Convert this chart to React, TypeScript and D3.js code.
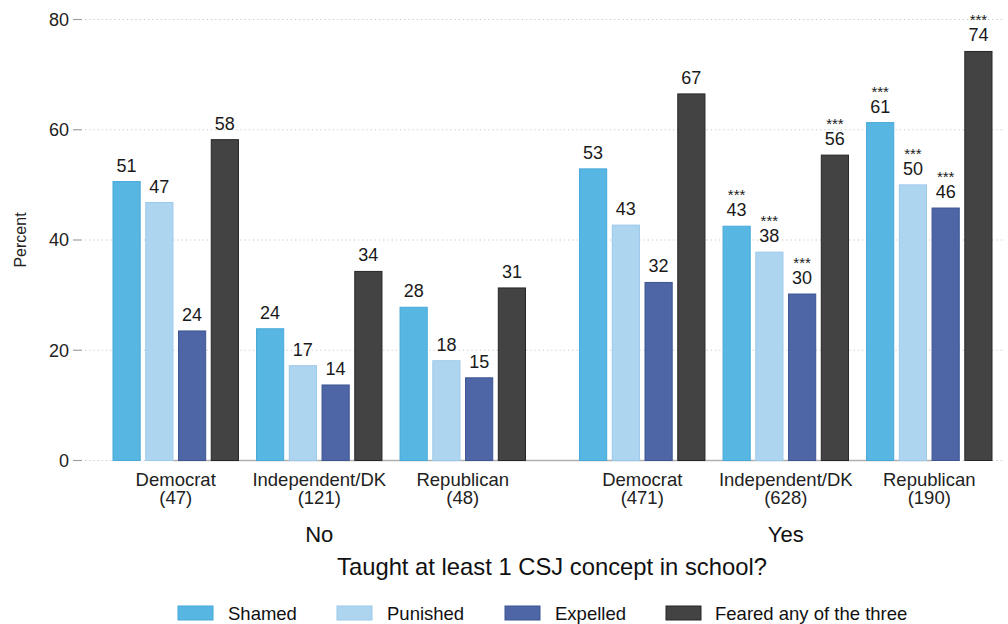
import React from "react";
import * as d3 from "d3";

const panels = ["No", "Yes"];
const parties = ["Democrat", "Independent/DK", "Republican"];
const sampleSizes = [
  ["(47)", "(121)", "(48)"],
  ["(471)", "(628)", "(190)"],
];
const seriesNames = ["Shamed", "Punished", "Expelled", "Feared any of the three"];
const seriesColors = ["#57B6E2", "#ADD5F0", "#4E66A5", "#434343"];
const seriesStroke = ["#47A9DA", "#9CC9EA", "#3D5594", "#262626"];
// values[party][series]
const valuesNo = [
  [50.6, 46.8, 23.5, 58.2],
  [23.9, 17.2, 13.7, 34.3],
  [27.8, 18.1, 15.0, 31.3],
];
const valuesYes = [
  [52.9, 42.7, 32.3, 66.5],
  [42.5, 37.8, 30.2, 55.4],
  [61.3, 50.0, 45.8, 74.2],
];
const labelsNo = [
  ["51", "47", "24", "58"],
  ["24", "17", "14", "34"],
  ["28", "18", "15", "31"],
];
const labelsYes = [
  ["53", "43", "32", "67"],
  ["43", "38", "30", "56"],
  ["61", "50", "46", "74"],
];
const starsNo = [
  [false, false, false, false],
  [false, false, false, false],
  [false, false, false, false],
];
const starsYes = [
  [false, false, false, false],
  [true, true, true, true],
  [true, true, true, true],
];
const yTicks = [0, 20, 40, 60, 80];

const FONT = "'Liberation Sans', Arial, Helvetica, sans-serif";

export default function App() {
  const W = 1008;
  const H = 624;
  const y = d3.scaleLinear().domain([0, 80]).range([460.5, 19.5]);
  const xPanel = d3.scaleBand<string>().domain(panels).range([113, 992]).paddingInner(0.1158);
  const xGroup = d3
    .scaleBand<string>()
    .domain(parties)
    .range([0, xPanel.bandwidth()])
    .paddingInner(0.126);
  const xSeries = d3
    .scaleBand<string>()
    .domain(seriesNames)
    .range([0, xGroup.bandwidth()])
    .paddingInner(0.17);

  const allValues = [valuesNo, valuesYes];
  const allLabels = [labelsNo, labelsYes];
  const allStars = [starsNo, starsYes];

  const baseStart = (xPanel("No") || 0) + (xSeries("Expelled") || 0) - 5;
  const baseEnd = (xPanel("Yes") || 0) + (xGroup("Republican") || 0) + (xSeries("Expelled") || 0);

  const legendItems = [
    { sx: 178, tx: 228 },
    { sx: 337, tx: 387 },
    { sx: 505, tx: 555 },
    { sx: 666, tx: 715 },
  ];

  return (
    <svg width={W} height={H} style={{ position: "absolute", left: 0, top: 0, background: "#fff" }} fontFamily={FONT}>
      {yTicks.map((t) => (
        <g key={"g" + t}>
          <line x1={85} x2={1005} y1={y(t)} y2={y(t)} stroke="#c8c8c8" strokeWidth={1} strokeDasharray="1.2,3" />
          <line x1={73} x2={82} y1={y(t)} y2={y(t)} stroke="#a0a0a0" strokeWidth={1.2} />
          <text x={69} y={y(t)} dy="0.36em" textAnchor="end" fontSize={18} fill="#222">
            {t}
          </text>
        </g>
      ))}
      <line x1={baseStart} x2={baseEnd} y1={y(0)} y2={y(0)} stroke="#b0b0b0" strokeWidth={1.5} />
      <text transform={`translate(26,${y(40)}) rotate(-90)`} textAnchor="middle" fontSize={16} fill="#222">
        Percent
      </text>

      {panels.map((p, pi) => {
        const px = xPanel(p) || 0;
        return (
          <g key={p}>
            {parties.map((party, gi) => {
              const gx = px + (xGroup(party) || 0);
              const gc = gx + xGroup.bandwidth() / 2;
              return (
                <g key={party}>
                  {seriesNames.map((s, si) => {
                    const v = allValues[pi][gi][si];
                    const bx = gx + (xSeries(s) || 0);
                    const bw = xSeries.bandwidth();
                    const cx = bx + bw / 2;
                    const top = y(v);
                    return (
                      <g key={s}>
                        <rect
                          x={bx}
                          y={top}
                          width={bw}
                          height={y(0) - top}
                          fill={seriesColors[si]}
                          stroke={seriesStroke[si]}
                          strokeWidth={1}
                        />
                        <text textAnchor="middle" fill="#1a1a1a">
                          {allStars[pi][gi][si] && (
                            <tspan x={cx} y={top - 26} fontSize={15}>
                              ***
                            </tspan>
                          )}
                          <tspan x={cx} y={top - 10} fontSize={18}>
                            {allLabels[pi][gi][si]}
                          </tspan>
                        </text>
                      </g>
                    );
                  })}
                  <text x={gc} y={486} textAnchor="middle" fontSize={18.5} fill="#222">
                    {party}
                  </text>
                  <text x={gc} y={504} textAnchor="middle" fontSize={18.5} fill="#222">
                    {sampleSizes[pi][gi]}
                  </text>
                </g>
              );
            })}
            <text x={px + xPanel.bandwidth() / 2} y={542} textAnchor="middle" fontSize={22} fill="#111">
              {p}
            </text>
          </g>
        );
      })}

      <text x={552} y={575} textAnchor="middle" fontSize={23.8} fill="#111">
        Taught at least 1 CSJ concept in school?
      </text>

      {seriesNames.map((s, i) => (
        <g key={"l" + s}>
          <rect x={legendItems[i].sx} y={606} width={35} height={14} fill={seriesColors[i]} stroke={seriesStroke[i]} strokeWidth={1} />
          <text x={legendItems[i].tx} y={620} fontSize={18.5} fill="#111">
            {s}
          </text>
        </g>
      ))}
    </svg>
  );
}
